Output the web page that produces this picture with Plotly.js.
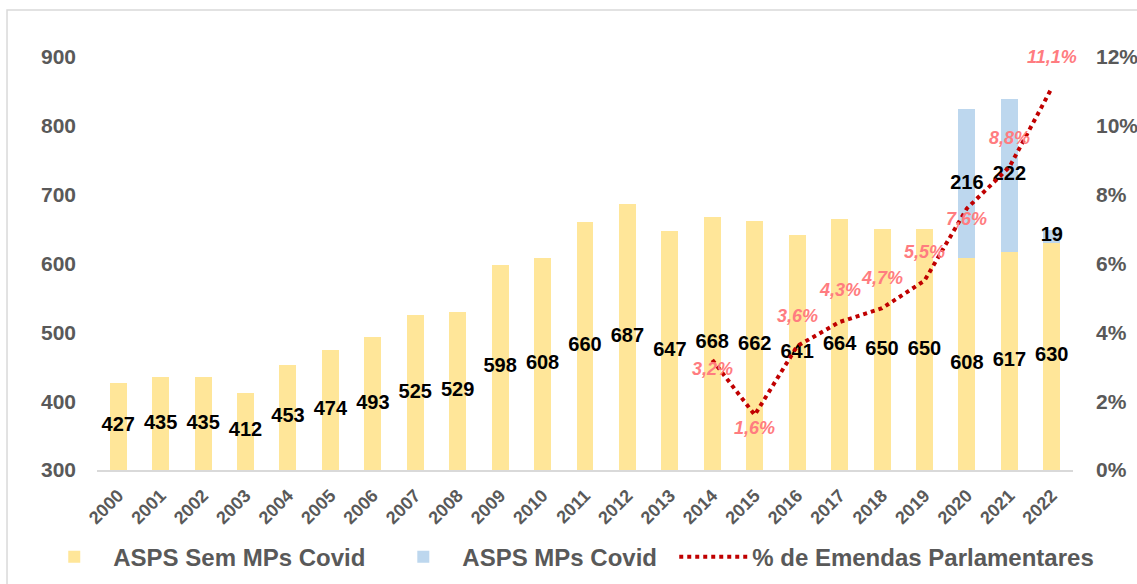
<!DOCTYPE html>
<html>
<head>
<meta charset="utf-8">
<script src="https://cdn.plot.ly/plotly-3.0.1.min.js"></script>
<style>html,body{margin:0;padding:0;background:#fff;}#chart{width:1137px;height:584px;}</style>
</head>
<body>
<div id="chart"></div>
<script>
// ---- data ----
const years = ['2000','2001','2002','2003','2004','2005','2006','2007','2008','2009','2010','2011','2012','2013','2014','2015','2016','2017','2018','2019','2020','2021','2022'];
const semCovid = [427,435,435,412,453,474,493,525,529,598,608,660,687,647,668,662,641,664,650,650,608,617,630];
const covidYears = ['2020','2021','2022'];
const mpsCovid = [216,222,19];
const pctYears = ['2014','2015','2016','2017','2018','2019','2020','2021','2022'];
const pctEmendas = [3.2,1.6,3.6,4.3,4.7,5.5,7.6,8.8,11.1];

// ---- styles ----
const gray = '#595959';
const base = 300;
const pctShift = [-9,-13,30,32,30,29,-11,29,31];
const sans = '"Liberation Sans", Arial, sans-serif';

const semLabelY = semCovid.map(v => (Math.max(v, base) + base) / 2);
const covidBase = covidYears.map(y => semCovid[years.indexOf(y)]);
const covidLabelY = mpsCovid.map((v, i) => covidBase[i] + v / 2);
const pctText = pctEmendas.map(v => v.toFixed(1).replace('.', ',') + '%');

const labelFont = {family:sans, size:20, color:'#000', weight:'bold'};
const traces = [
  {type:'bar', x:years, y:semCovid, name:'ASPS Sem MPs Covid', marker:{color:'#FFE699'}, hoverinfo:'x+y', legend:'legend'},
  {type:'bar', x:covidYears, y:mpsCovid, name:'ASPS MPs Covid', marker:{color:'#BDD7EE'}, hoverinfo:'x+y', legend:'legend2'},
  {type:'scatter', mode:'lines', x:pctYears, y:pctEmendas, yaxis:'y2', name:'% de Emendas Parlamentares',
   line:{color:'#C00000', width:4, dash:'dot'}, legend:'legend3'},
  {type:'scatter', mode:'text', x:years, y:semLabelY, text:semCovid.map(String), showlegend:false, hoverinfo:'skip',
   textfont:labelFont, cliponaxis:false},
  {type:'scatter', mode:'text', x:covidYears, y:covidLabelY, text:mpsCovid.map(String), showlegend:false, hoverinfo:'skip',
   textfont:labelFont, cliponaxis:false}
];

const annotations = pctYears.map((yr, i) => ({
  x: years.indexOf(yr), y: pctEmendas[i], xref:'x', yref:'y2', text: pctText[i], showarrow:false, yshift: pctShift[i],
  font:{family:sans, size:18, color:'#FF7C80', weight:'bold', style:'italic'}
}));

const legBase = {orientation:'h', xref:'container', yref:'container', xanchor:'left', y:0.046, yanchor:'middle',
                 itemwidth:68, bgcolor:'rgba(0,0,0,0)', font:{family:sans, size:24, color:gray, weight:'bold'}};

const layout = {
  width:1137, height:584,
  margin:{l:97, r:64, t:57, b:114},
  paper_bgcolor:'#fff', plot_bgcolor:'#fff',
  barmode:'stack', bargap:0.6,
  font:{family:sans, color:gray},
  xaxis:{type:'category', categoryorder:'array', categoryarray:years, range:[-0.5, years.length - 0.5],
         tickangle:-45, showline:true, linecolor:'#D9D9D9', linewidth:2,
         showgrid:false, ticks:'', ticklabelstandoff:6,
         tickfont:{family:sans, size:18, color:gray, weight:'bold'}},
  yaxis:{range:[300,900], dtick:100, showgrid:false, zeroline:false, showline:false, ticks:'',
         ticklabelstandoff:20, tickfont:{family:sans, size:21, color:gray, weight:'bold'}},
  yaxis2:{range:[0,12], dtick:2, ticksuffix:'%', overlaying:'y', side:'right', showgrid:false, zeroline:false,
          showline:false, ticks:'', ticklabelstandoff:22, tickfont:{family:sans, size:21, color:gray, weight:'bold'}},
  legend: Object.assign({}, legBase, {x:0.031}),
  legend2: Object.assign({}, legBase, {x:0.338}),
  legend3: Object.assign({}, legBase, {x:0.593}),
  annotations: annotations,
  shapes:[{type:'rect', xref:'paper', yref:'paper', x0:-0.0922, x1:1.3, y0:-0.5, y1:1.1138,
           line:{color:'#D9D9D9', width:1.5}, fillcolor:'rgba(0,0,0,0)', layer:'below'}],
  showlegend:true
};

Plotly.newPlot('chart', traces, layout, {displayModeBar:false, staticPlot:true});
</script>
</body>
</html>
